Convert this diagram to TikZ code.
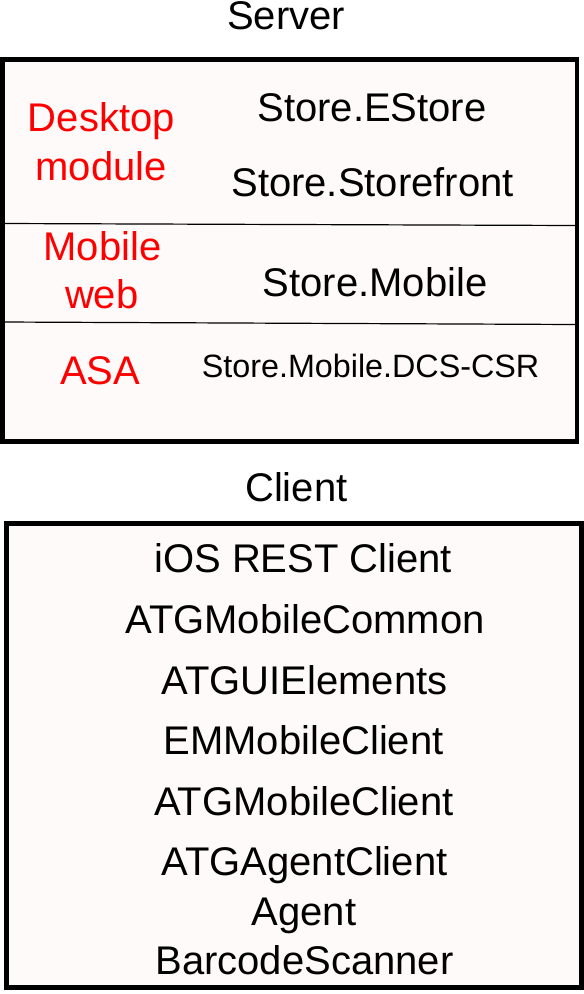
\documentclass[tikz,border=0pt]{standalone}
\usepackage{fontspec}
\setmainfont{Liberation Sans}
\definecolor{boxfill}{RGB}{253,250,249}
\definecolor{labred}{RGB}{255,0,0}
\begin{document}
\begin{tikzpicture}[x=1pt,y=-1pt,
  big/.style={font=\fontsize{40}{48}\selectfont, anchor=base, inner sep=0pt},
  small/.style={font=\fontsize{32.3}{38}\selectfont, anchor=base, inner sep=0pt},
  redlabel/.style={big, text=labred},
  panel/.style={draw=black, fill=boxfill, inner sep=0pt},
  divider/.style={draw=black, line width=1.2pt}]
\useasboundingbox (0,0) rectangle (584,994);
% boxes
\node[panel, line width=4.5pt, minimum width=574.5pt, minimum height=382pt] (server) at (289.75,250.5) {};
\node[panel, line width=5pt, minimum width=575pt, minimum height=464pt] (client) at (294,755) {};
% dividers
\draw[divider] (2.5,223.5) -- (577,225.5);
\draw[divider] (2.5,322) -- (577,324.5);
% titles
\node[big] (servertitle) at (286,29.3) {Server};
\node[big] (clienttitle) at (296.3,501.7) {Client};
% server contents
\node[redlabel] (desktop) at (101.3,131) {Desktop};
\node[redlabel] (module) at (101.2,180) {module};
\node[big] (estore) at (372,121.7) {Store.EStore};
\node[big] (storefront) at (372.5,196.7) {Store.Storefront};
\node[redlabel] (mobile) at (102.4,260) {Mobile};
\node[redlabel] (web) at (101.8,308.8) {web};
\node[big] (storemobile) at (375,296) {Store.Mobile};
\node[redlabel] (asa) at (100.3,384.4) {ASA};
\node[small] (dcs) at (370.6,377.7) {Store.Mobile.DCS-CSR};
% client contents
\node[big] (ios) at (303.2,572.7) {iOS REST Client};
\node[big] (common) at (305,633.3) {ATGMobileCommon};
\node[big] (uiel) at (304.4,694) {ATGUIElements};
\node[big] (emm) at (303.5,754) {EMMobileClient};
\node[big] (atgmc) at (303.9,815) {ATGMobileClient};
\node[big] (agentclient) at (304.4,875) {ATGAgentClient};
\node[big] (agent) at (304,925) {Agent};
\node[big] (barcode) at (304.5,974.5) {BarcodeScanner};
\end{tikzpicture}
\end{document}
